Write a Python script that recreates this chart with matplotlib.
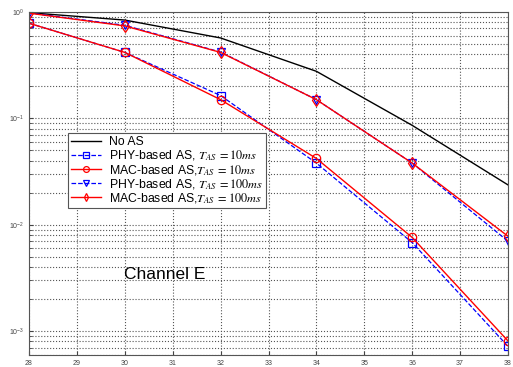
import matplotlib
matplotlib.use("Agg")
import matplotlib.pyplot as plt

plt.rcParams['font.family'] = ['Liberation Sans', 'DejaVu Sans']
plt.rcParams['mathtext.fontset'] = 'stix'

# SNR points (dB)
snr = [28, 30, 32, 34, 36, 38]

# error rates
no_as = [0.985, 0.84, 0.57, 0.277, 0.086, 0.0237]
phy_10 = [0.785, 0.417, 0.164, 0.038, 0.0068, 0.00072]
mac_10 = [0.784, 0.417, 0.150, 0.042, 0.0076, 0.00081]
phy_100 = [0.98, 0.75, 0.42, 0.15, 0.038, 0.0070]
mac_100 = [0.975, 0.74, 0.417, 0.15, 0.038, 0.0078]

labels = ["No AS",
          r"PHY-based AS, $T_{AS}\;=10ms$",
          r"MAC-based AS,$T_{AS}\;=10ms$",
          r"PHY-based AS, $T_{AS}\;=100ms$",
          r"MAC-based AS,$T_{AS}\;=100ms$"]

fig = plt.figure(figsize=(5.13, 3.67), dpi=100)
ax = fig.add_axes([29/513, 12/367, 479/513, 343/367])

ax.semilogy(snr, no_as, "-", color="black", lw=1.0, label=labels[0])
ax.semilogy(snr, phy_10, "--s", color="blue", lw=0.9, ms=6, mfc="none", mew=0.9, label=labels[1])
ax.semilogy(snr, mac_10, "-o", color="red", lw=1.0, ms=6, mfc="none", mew=0.9, label=labels[2])
ax.semilogy(snr, phy_100, "--v", color="blue", lw=0.9, ms=6, mfc="none", mew=0.9, label=labels[3])
ax.semilogy(snr, mac_100, "-d", color="red", lw=1.0, ms=6, mfc="none", mew=0.9, label=labels[4])

ax.set_xlim(28, 38)
ax.set_ylim(10**-3.224, 1)
ax.set_xticks(range(28, 39))
ax.tick_params(axis="both", which="major", labelsize=5, length=3, direction="in", colors="#444444")
ax.tick_params(axis="y", which="minor", length=2, direction="in", colors="#444444")
ax.grid(True, which="major", ls=":", color="#555555", lw=0.8)
ax.grid(True, which="minor", axis="y", ls=":", color="#555555", lw=0.8)
for s in ax.spines.values():
    s.set_color("#555555")

ax.text(29.98, 3.4e-3, "Channel E", fontsize=12.5, va="center", ha="left")

leg = ax.legend(loc="lower left", bbox_to_anchor=(0.069, 0.41), fontsize=8.8,
                fancybox=False, framealpha=1, edgecolor="#555555", markerscale=0.7,
                handlelength=2.4, borderpad=0.25, labelspacing=0.02, handletextpad=0.7)
leg.get_frame().set_linewidth(0.8)

fig.savefig("out.png", dpi=100)
